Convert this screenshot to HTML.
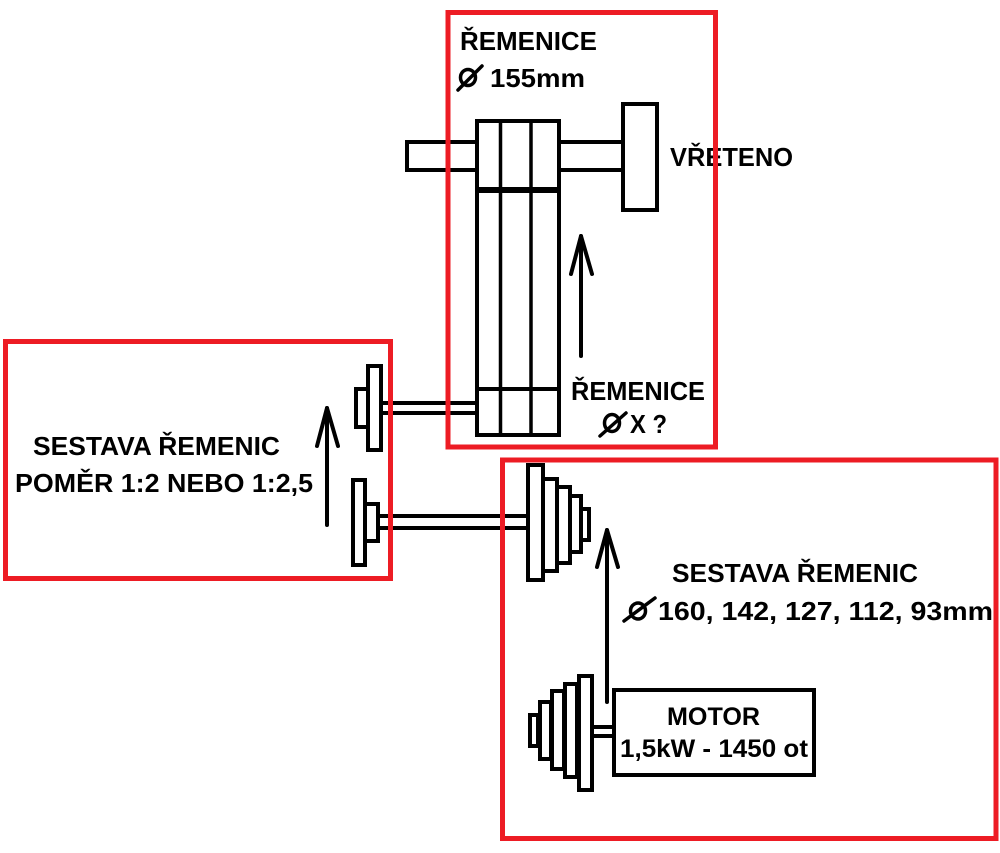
<!DOCTYPE html>
<html>
<head>
<meta charset="utf-8">
<style>
html,body{margin:0;padding:0;background:#fff;}
svg{display:block;}
text{font-family:"Liberation Sans","DejaVu Sans",sans-serif;font-weight:bold;fill:#000;}
</style>
</head>
<body>
<svg width="1000" height="853" viewBox="0 0 1000 853" xmlns="http://www.w3.org/2000/svg">
<rect x="0" y="0" width="1000" height="853" fill="#fff"/>
<g fill="#fff" stroke="#000" stroke-width="4">
  <!-- top left shaft -->
  <rect x="407" y="142" width="70" height="28"/>
  <!-- right shaft -->
  <rect x="559" y="142" width="64" height="28"/>
  <!-- spindle -->
  <rect x="623" y="104" width="34" height="106"/>
  <!-- long pulley block -->
  <rect x="477" y="121" width="82" height="314"/>
</g>
<g stroke="#000" fill="none">
  <line x1="500.5" y1="121" x2="500.5" y2="435" stroke-width="3.5"/>
  <line x1="531" y1="121" x2="531" y2="435" stroke-width="3.5"/>
  <line x1="477" y1="190" x2="559" y2="190" stroke-width="6"/>
  <line x1="477" y1="389" x2="559" y2="389" stroke-width="4"/>
  <!-- shaft to upper left pulley -->
  <line x1="381" y1="403" x2="477" y2="403" stroke-width="4"/>
  <line x1="381" y1="413" x2="477" y2="413" stroke-width="4"/>
  <!-- lower shaft -->
  <line x1="378" y1="516" x2="528" y2="516" stroke-width="4"/>
  <line x1="378" y1="528" x2="528" y2="528" stroke-width="4"/>
  <!-- motor shaft -->
  <line x1="592" y1="727" x2="614" y2="727" stroke-width="4"/>
  <line x1="592" y1="736" x2="614" y2="736" stroke-width="4"/>
</g>
<g fill="#fff" stroke="#000" stroke-width="4">
  <!-- upper left pulley -->
  <rect x="356" y="389" width="12" height="38"/>
  <rect x="368" y="366" width="13" height="84"/>
  <!-- lower left pulley -->
  <rect x="353" y="480" width="12" height="85"/>
  <rect x="365" y="504" width="13" height="37"/>
  <!-- right stepped pulley -->
  <rect x="581" y="509" width="8" height="31"/>
  <rect x="570" y="496" width="11" height="56"/>
  <rect x="557" y="487" width="13" height="76"/>
  <rect x="543" y="479" width="14" height="92"/>
  <rect x="528" y="465" width="15" height="115"/>
  <!-- motor stepped pulley -->
  <rect x="530" y="715" width="8" height="31"/>
  <rect x="540" y="702" width="11" height="57"/>
  <rect x="552" y="691" width="12" height="78"/>
  <rect x="565" y="684" width="12" height="93"/>
  <rect x="579" y="676" width="13" height="114"/>
  <!-- motor -->
  <rect x="614" y="690" width="200" height="85"/>
</g>
<!-- arrows -->
<g stroke="#000" stroke-width="4" fill="none" stroke-linecap="round" stroke-linejoin="round">
  <line x1="581" y1="356" x2="581" y2="236"/>
  <polyline points="571,274 581,236 592,274"/>
  <line x1="327" y1="525" x2="327" y2="408"/>
  <polyline points="317,446 327,408 338,446"/>
  <line x1="607" y1="702" x2="607" y2="530"/>
  <polyline points="597,567 607,530 618,567"/>
</g>
<!-- diameter symbols -->
<g stroke="#000" stroke-width="3.5" fill="none" stroke-linecap="round">
  <ellipse cx="468" cy="77.5" rx="7.5" ry="8"/>
  <line x1="458" y1="90" x2="482" y2="66"/>
  <ellipse cx="612" cy="423" rx="7.5" ry="8.5"/>
  <line x1="600" y1="436" x2="626" y2="413"/>
  <ellipse cx="638" cy="611" rx="7.5" ry="8"/>
  <line x1="624" y1="621" x2="655" y2="598"/>
</g>
<!-- texts -->
<g font-size="26">
  <text x="460" y="50" textLength="137" lengthAdjust="spacingAndGlyphs">ŘEMENICE</text>
  <text x="490" y="87" textLength="95" lengthAdjust="spacingAndGlyphs">155mm</text>
  <text x="670" y="166" textLength="123" lengthAdjust="spacingAndGlyphs">VŘETENO</text>
  <text x="571" y="400" textLength="134" lengthAdjust="spacingAndGlyphs">ŘEMENICE</text>
  <text x="630" y="433" textLength="37" lengthAdjust="spacingAndGlyphs">X ?</text>
  <text x="33" y="455" textLength="247" lengthAdjust="spacingAndGlyphs">SESTAVA ŘEMENIC</text>
  <text x="15" y="492" textLength="298" lengthAdjust="spacingAndGlyphs">POMĚR 1:2 NEBO 1:2,5</text>
  <text x="672" y="582" textLength="246" lengthAdjust="spacingAndGlyphs">SESTAVA ŘEMENIC</text>
  <text x="658" y="620" textLength="335" lengthAdjust="spacingAndGlyphs">160, 142, 127, 112, 93mm</text>
</g>
<g font-size="25">
  <text x="667" y="725" textLength="93" lengthAdjust="spacingAndGlyphs">MOTOR</text>
  <text x="620" y="757" textLength="188" lengthAdjust="spacingAndGlyphs">1,5kW - 1450 ot</text>
</g>
<!-- red boxes on top -->
<g fill="none" stroke="#ED1C24" stroke-width="5">
  <rect x="448" y="12.5" width="267.5" height="434.5"/>
  <rect x="5.5" y="341.5" width="385" height="237"/>
  <rect x="502.5" y="460" width="493.5" height="378.5"/>
</g>
</svg>
</body>
</html>
